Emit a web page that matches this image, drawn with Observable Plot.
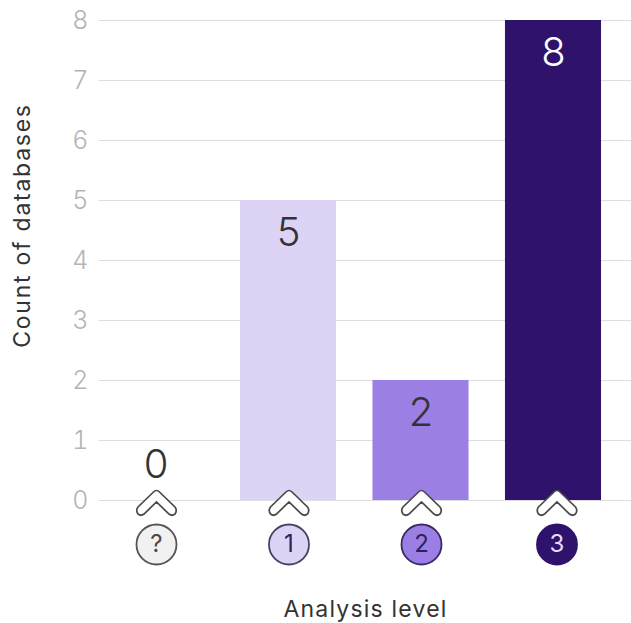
<!DOCTYPE html>
<html>
<head>
<meta charset="utf-8">
<script src="https://cdn.jsdelivr.net/npm/d3@7"></script>
<script src="https://cdn.jsdelivr.net/npm/@observablehq/plot@0.6"></script>
<style>
  html, body { margin: 0; padding: 0; background: #fff; }
  svg { display: block; }
  .title-y { letter-spacing: 1.75px; }
  .title-x { letter-spacing: 1.2px; }
</style>
</head>
<body>
<div id="chart"></div>
<script>
// Databases per analysis level
const levels = ["?", "1", "2", "3"];
const counts = [0, 5, 2, 8];
const levelFills = ["#f1f1f1", "#dcd3f5", "#9c7fe5", "#2f126c"];
const badgeInk = ["#4a4a4a", "#2f1f5c", "#2f1f5c", "#e6dcfa"];
const badgeRing = ["#555555", "#4a4066", "#3a2a66", "#2f126c"];
const valueInk = ["#333333", "#333333", "#333333", "#ffffff"];
const yTicks = [0, 1, 2, 3, 4, 5, 6, 7, 8];

const rows = levels.map((level, i) => ({
  level,
  count: counts[i],
  fill: levelFills[i],
  ink: badgeInk[i],
  ring: badgeRing[i],
  valueInk: valueInk[i]
}));

// Upward chevron with a thick outlined body and rounded arm ends
const chevron = {
  draw(context) {
    context.moveTo(0, -13);
    context.quadraticCurveTo(1.5, -13, 3, -11.5);
    context.lineTo(18.5, 3.5);
    context.quadraticCurveTo(21, 7, 18.5, 10.5);
    context.quadraticCurveTo(15.5, 13, 12.5, 10.5);
    context.lineTo(0, -1.5);
    context.lineTo(-12.5, 10.5);
    context.quadraticCurveTo(-15.5, 13, -18.5, 10.5);
    context.quadraticCurveTo(-21, 7, -18.5, 3.5);
    context.lineTo(-3, -11.5);
    context.quadraticCurveTo(-1.5, -13, 0, -13);
    context.closePath();
  }
};

// Chevron, ring and digit under one bar
function levelMarker(row, shift) {
  const data = [row];
  return [
    Plot.dot(data, {
      x: "level",
      y: () => 0,
      dx: shift,
      dy: 3,
      symbol: chevron,
      fill: "#fff",
      stroke: "#4a4a4a",
      strokeWidth: 1.7
    }),
    Plot.dot(data, {
      x: "level",
      y: () => 0,
      dx: shift,
      dy: 44,
      r: 20,
      fill: "fill",
      stroke: "ring",
      strokeWidth: 1.8
    }),
    Plot.text(data, {
      x: "level",
      y: () => 0,
      dx: shift,
      dy: 44,
      text: "level",
      fontSize: 24,
      fontWeight: 400,
      fill: "ink"
    })
  ];
}

const font = "Inter, 'Open Sans', sans-serif";

const chart = Plot.plot({
  width: 631,
  height: 623,
  marginTop: 20,
  marginBottom: 123,
  marginLeft: 99,
  marginRight: 0,
  style: { fontFamily: font, background: "#fff" },
  x: { type: "band", axis: null, round: false, domain: levels, paddingInner: 0.275, paddingOuter: 0.145, align: 0.22 },
  y: { domain: [0, 8], axis: null },
  marks: [
    Plot.ruleY(yTicks, { stroke: "#dedede", strokeWidth: 1.2 }),
    Plot.axisY({
      ticks: yTicks,
      tickSize: 0,
      tickPadding: 11,
      fontSize: 25,
      fontWeight: 300,
      color: "#b4b4b4",
      label: null
    }),
    Plot.text(["Count of databases"], {
      frameAnchor: "left",
      textAnchor: "middle",
      dx: -77,
      dy: -35,
      rotate: -90,
      fontSize: 23,
      fill: "#333",
      className: "title-y"
    }),
    Plot.text(["Analysis level"], {
      frameAnchor: "bottom",
      dy: 109,
      lineAnchor: "middle",
      fontSize: 23,
      fill: "#333",
      className: "title-x"
    }),
    Plot.barY(rows, { x: "level", y: "count", fill: "fill" }),
    // Value labels: inside the bar, or above the baseline when the bar is empty
    Plot.text(rows.filter(d => d.count > 0), {
      x: "level",
      y: "count",
      text: d => String(d.count),
      dy: 33,
      fontSize: 40,
      fontWeight: 300,
      fill: "valueInk"
    }),
    Plot.text(rows.filter(d => d.count === 0), {
      x: "level",
      y: "count",
      text: d => String(d.count),
      dy: -35,
      fontSize: 40,
      fontWeight: 300,
      fill: "valueInk"
    }),
    ...rows.flatMap((row, i) => levelMarker(row, i === rows.length - 1 ? 3.5 : 0.5))
  ]
});

document.getElementById("chart").append(chart);
</script>
</body>
</html>
